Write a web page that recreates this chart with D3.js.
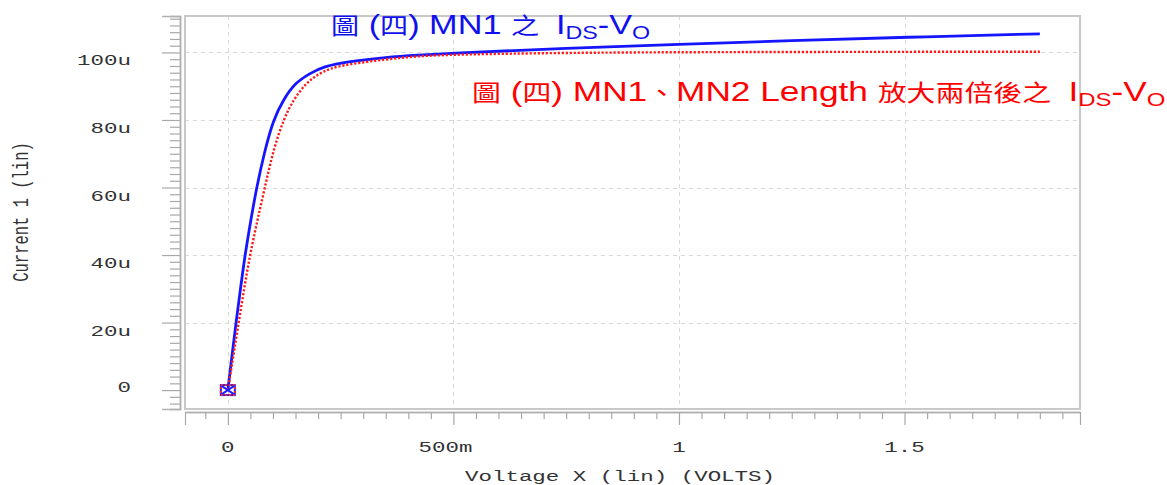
<!DOCTYPE html>
<html><head><meta charset="utf-8">
<script src="https://cdn.jsdelivr.net/npm/d3@7/dist/d3.min.js"></script>
<style>
html,body{margin:0;padding:0;background:#fff;}
svg{display:block;}
</style></head>
<body>
<svg id="chart" width="1167" height="485"></svg>
<script>
// ---- data (volts, micro-amps) ----
const blueVolts   = [0, 0.009, 0.018, 0.028, 0.038, 0.0505, 0.0636, 0.082, 0.1005, 0.123, 0.149, 0.182, 0.211, 0.267, 0.352, 0.42, 0.5, 0.75, 1.0, 1.25, 1.5, 1.8];
const blueCurrent = [0, 10, 20, 30, 40, 50, 60, 71, 80, 86, 91, 93.8, 95.8, 97.3, 98.6, 99.2, 99.8, 101.3, 102.4, 103.5, 104.5, 105.5];
const redVolts    = [0, 0.012, 0.024, 0.036, 0.049, 0.065, 0.082, 0.1005, 0.123, 0.145, 0.174, 0.197, 0.226, 0.266, 0.352, 0.42, 0.5, 0.75, 1.0, 1.5, 1.8];
const redCurrent  = [0, 10, 20, 30, 40, 50, 60, 71, 80, 86, 91, 93.3, 95.3, 96.5, 98, 98.9, 99.4, 99.9, 100.1, 100.2, 100.2];
const xTickValues = [0, 0.5, 1, 1.5];
const xTickLabels = ["0", "500m", "1", "1.5"];
const yTickValues = [0, 20, 40, 60, 80, 100];
const yTickLabels = ["0", "20u", "40u", "60u", "80u", "100u"];
const xDomain = [-0.095, 1.889];
const yDomain = [-5.6, 110.8];
const xTitle = "Voltage X (lin) (VOLTS)";
const yTitle = "Current 1 (lin)";

// ---- layout ----
const svg = d3.select("#chart");
const L = 185, R = 1080, T = 16, B = 409;
const x = d3.scaleLinear().domain(xDomain).range([L, R]);
const y = d3.scaleLinear().domain(yDomain).range([B, T]);
const SX = 1.45; // horizontal stretch of the original plot text
const monoFont = "'Liberation Mono', 'DejaVu Sans Mono', monospace";

svg.append("rect").attr("width", 1167).attr("height", 485).attr("fill", "#fff");

// grid
const grid = svg.append("g").attr("stroke", "#d8d8d8").attr("stroke-width", 1).attr("stroke-dasharray", "4,4");
grid.selectAll("line.h").data(yTickValues.filter(v => v !== 0)).join("line")
  .attr("x1", L).attr("x2", R).attr("y1", d => Math.round(y(d)) + 0.5).attr("y2", d => Math.round(y(d)) + 0.5);
grid.selectAll("line.v").data(xTickValues).join("line")
  .attr("y1", T).attr("y2", B).attr("x1", d => Math.round(x(d)) + 0.5).attr("x2", d => Math.round(x(d)) + 0.5);

// frame
svg.append("rect").attr("x", L).attr("y", T).attr("width", R - L).attr("height", B - T)
  .attr("fill", "none").attr("stroke", "#c8c8c8").attr("stroke-width", 2);

// left axis (ticks only)
const yMinor = d3.range(-4, 111, 2).filter(v => !yTickValues.includes(v));
const yAxisMajor = d3.axisLeft(y).tickValues(yTickValues).tickSize(18).tickFormat("");
const yAxisMinor = d3.axisLeft(y).tickValues(yMinor).tickSize(10).tickFormat("");
const gy = svg.append("g").attr("transform", "translate(180,0)");
gy.call(yAxisMinor);
gy.append("g").call(yAxisMajor);
gy.selectAll("path.domain").attr("stroke", "#b0b0b0").attr("stroke-width", 1.5);
gy.selectAll(".tick line").attr("stroke", "#a8a8a8").attr("stroke-width", 1.2);

// bottom axis (ticks only)
const xMinor = d3.range(-0.05, 1.86, 0.05).map(v => +v.toFixed(2)).filter(v => !xTickValues.includes(v));
const xAxisMajor = d3.axisBottom(x).tickValues([xDomain[0], ...xTickValues, xDomain[1]]).tickSize(13).tickFormat("").tickSizeOuter(0);
const xAxisMinor = d3.axisBottom(x).tickValues(xMinor).tickSize(7).tickFormat("").tickSizeOuter(0);
const gx = svg.append("g").attr("transform", "translate(0,412)");
gx.call(xAxisMinor);
gx.append("g").call(xAxisMajor);
gx.selectAll("path.domain").attr("stroke", "#b0b0b0").attr("stroke-width", 1.5);
gx.selectAll(".tick line").attr("stroke", "#a8a8a8").attr("stroke-width", 1.2);

// tick labels
const labelStyle = sel => sel.attr("font-family", monoFont).attr("font-size", 15.5).attr("fill", "#333");
svg.selectAll("text.ylab").data(yTickValues).join("text").attr("class", "ylab")
  .call(labelStyle).attr("text-anchor", "end")
  .attr("transform", d => `translate(131,${y(d) + (d === 0 ? 2 : 13)}) scale(${SX},1)`)
  .text((d, i) => yTickLabels[i]);
svg.selectAll("text.xlab").data(xTickValues).join("text").attr("class", "xlab")
  .call(labelStyle).attr("text-anchor", "middle")
  .attr("transform", d => `translate(${x(d) - (d === 0.5 ? 8 : 0)},452) scale(${SX},1)`)
  .text((d, i) => xTickLabels[i]);

// axis titles
svg.append("text").call(labelStyle).attr("text-anchor", "middle")
  .attr("transform", `translate(620,481) scale(${SX},1)`).text(xTitle);
svg.append("text").call(labelStyle).attr("text-anchor", "middle")
  .attr("transform", `translate(28,212) scale(${SX},1) rotate(-90)`).text(yTitle);

// series
const line = d3.line().x(d => x(d[0])).y(d => y(d[1])).curve(d3.curveBasis);
const blueData = blueVolts.map((v, i) => [v, blueCurrent[i]]);
const redData = redVolts.map((v, i) => [v, redCurrent[i]]);
svg.append("path").datum(blueData).attr("d", line).attr("fill", "none")
  .attr("stroke", "#1515ff").attr("stroke-width", 2.8).attr("stroke-linejoin", "round");
svg.append("path").datum(redData).attr("d", line).attr("fill", "none")
  .attr("stroke", "#ff1a1a").attr("stroke-width", 2.4).attr("stroke-dasharray", "2.2,1.8");

// origin marker
const mx = x(blueVolts[0]), my = y(blueCurrent[0]);
const mk = svg.append("g").attr("transform", `translate(${mx},${my})`);
mk.append("rect").attr("x", -7).attr("y", -5).attr("width", 14).attr("height", 10)
  .attr("fill", "none").attr("stroke", "#2020ff").attr("stroke-width", 2);
mk.append("path").attr("d", "M-6,-4L6,4M-6,4L6,-4").attr("stroke", "#2020ff").attr("stroke-width", 2);
mk.append("rect").attr("x", -7).attr("y", -5).attr("width", 14).attr("height", 10)
  .attr("fill", "none").attr("stroke", "#ff2020").attr("stroke-width", 2).attr("stroke-dasharray", "2,2");

// annotations
const cjk = "'Noto Sans CJK TC', 'Noto Sans CJK SC', sans-serif";
const latin = "'Liberation Sans', Arial, sans-serif";
function annotate(parts, color, x0, baseline, targetW) {
  const t = svg.append("text").attr("x", x0).attr("y", baseline).attr("fill", color).attr("font-size", 28);
  parts.forEach(p => {
    const ts = t.append("tspan").text(p.t).attr("font-family", p.cjk ? cjk : latin);
    if (p.cjk) ts.attr("font-size", 23);
    if (p.sub) ts.attr("font-size", 19).attr("dy", 5);
    if (p.up) ts.attr("dy", -5);
    if (p.dx) ts.attr("dx", p.dx);
  });
  const w = t.node().getComputedTextLength();
  t.attr("transform", `translate(${x0},0) scale(${targetW / w},1) translate(${-x0},0)`);
}
annotate([
  {t: "圖", cjk: true}, {t: "  ("}, {t: "四", cjk: true}, {t: ") MN1 "}, {t: "之", cjk: true},
  {t: " I", dx: 6}, {t: "DS", sub: true}, {t: "-V", up: true}, {t: "O", sub: true}
], "#1010ee", 331, 34, 312);
annotate([
  {t: "圖", cjk: true}, {t: "  ("}, {t: "四", cjk: true}, {t: ") MN1"}, {t: "、", cjk: true},
  {t: "MN2 Length  "}, {t: "放大兩倍後之", cjk: true},
  {t: " I", dx: 6}, {t: "DS", sub: true}, {t: "-V", up: true}, {t: "O", sub: true}
], "#ff0000", 472, 101, 686);
</script>
</body></html>
